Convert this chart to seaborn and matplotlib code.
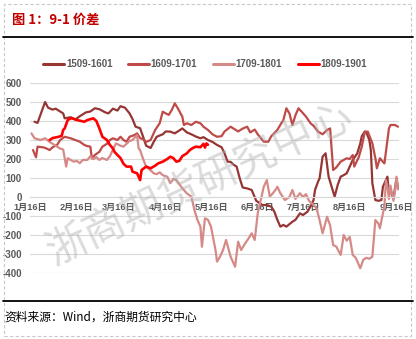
import matplotlib
matplotlib.use("Agg")
import matplotlib.pyplot as plt
import matplotlib.dates as mdates
from matplotlib.patches import Rectangle
from matplotlib.lines import Line2D
import pandas as pd
import seaborn as sns

YEAR = "2015-"

series_names = ["1509-1601", "1609-1701", "1709-1801", "1809-1901"]

dates_1509 = ["01-19","01-21","01-26","01-28","01-31","02-02","02-04","02-07","02-08","02-12","02-15","02-18","02-22","02-25","02-28",
              "03-03","03-07","03-09","03-12","03-15","03-17","03-20","03-23","03-25","03-27","03-30","04-01","04-03","04-06","04-08",
              "04-10","04-14","04-16","04-19","04-22","04-25","04-27","04-30","05-03","05-06","05-09","05-11","05-14","05-17","05-20",
              "05-23","05-25","05-27","05-29","05-31","06-02","06-04","06-06","06-09","06-12","06-15","06-19","06-22","06-25","06-27",
              "06-29","07-01","07-03","07-05","07-09","07-11","07-14","07-16","07-19","07-21","07-23","07-24","07-26","07-27","07-29",
              "07-31","08-02","08-04","08-06","08-08","08-10","08-12","08-14","08-16","08-18","08-21","08-23","08-24","08-26","08-27",
              "08-29","08-30","08-31","09-02","09-04","09-06","09-07","09-10","09-11","09-12","09-14","09-16","09-17"]
vals_1509 = [396,390,500,470,460,465,455,440,414,420,408,425,445,450,467,
             462,445,440,465,455,478,470,440,410,370,362,317,270,258,290,
             317,330,345,344,335,350,361,340,330,318,309,315,300,290,274,
             262,230,186,185,170,160,100,50,45,37,-20,-42,-42,-51,-77,
             -120,-156,-147,-156,-130,-120,-86,-95,-77,-50,-16,37,81,98,212,
             230,107,54,2,63,107,115,125,160,195,230,282,320,344,340,
             300,247,72,-16,-20,-16,54,107,19,30,-7,98,46]

dates_1609 = ["01-18","01-20","01-21","01-25","01-27","01-29","01-31","02-03","02-05","02-08","02-12","02-15","02-18","02-21","02-23",
              "02-25","02-26","02-28","03-03","03-05","03-08","03-10","03-12","03-15","03-17","03-19","03-21","03-23","03-26","03-28",
              "03-30","04-01","04-03","04-06","04-09","04-12","04-14","04-16","04-18","04-20","04-22","04-24","04-27","04-28","04-30",
              "05-03","05-06","05-09","05-11","05-14","05-17","05-20","05-23","05-25","05-29","05-31","06-03","06-06","06-09","06-11",
              "06-14","06-16","06-20","06-23","06-25","06-29","07-01","07-03","07-05","07-07","07-09","07-11","07-13","07-15","07-18",
              "07-21","07-23","07-26","07-29","08-01","08-03","08-05","08-07","08-10","08-12","08-14","08-16","08-18","08-19","08-22",
              "08-24","08-26","08-28","08-31","09-02","09-03","09-05","09-07","09-08","09-11","09-12","09-15","09-17"]
vals_1609 = [247,209,265,261,255,247,262,274,300,317,309,300,291,274,268,
             265,204,221,238,265,280,300,309,300,317,300,291,317,325,335,
             310,304,290,300,353,388,449,440,432,458,493,467,423,379,388,
             379,396,388,370,353,330,317,320,345,370,360,345,360,370,340,
             355,330,291,291,320,353,380,405,467,440,379,430,467,450,423,
             388,375,344,330,353,361,142,155,186,195,204,200,221,160,210,
             265,344,344,282,204,151,204,185,177,361,379,379,370]

dates_1709 = ["01-17","01-19","01-23","01-26","01-29","01-31","02-03","02-05","02-07","02-09","02-10","02-14","02-16","02-18","02-20",
              "02-23","02-25","02-27","03-01","03-03","03-05","03-08","03-10","03-12","03-14","03-17","03-19","03-21","03-23","03-25",
              "03-28","03-29","03-30","04-01","04-03","04-06","04-08","04-10","04-12","04-14","04-17","04-19","04-21","04-23","04-27",
              "04-30","05-03","05-05","05-07","05-09","05-10","05-12","05-14","05-16","05-19","05-20","05-22","05-24","05-26","05-29",
              "06-01","06-03","06-05","06-08","06-10","06-12","06-14","06-16","06-20","06-22","06-24","06-26","06-28","06-29","07-01",
              "07-04","07-07","07-09","07-11","07-14","07-16","07-18","07-20","07-23","07-25","07-27","07-29","08-01","08-03","08-05",
              "08-07","08-10","08-12","08-14","08-16","08-18","08-20","08-23","08-25","08-27","08-29","08-31","09-02","09-04","09-05",
              "09-07","09-08","09-09","09-10","09-11","09-12","09-14","09-15","09-16","09-17"]
vals_1709 = [335,309,300,309,290,280,265,255,250,160,204,186,190,178,195,
             195,215,200,210,195,205,195,215,250,282,270,265,280,295,300,
             326,256,247,200,160,140,125,120,130,115,107,73,95,89,46,
             19,2,-68,-120,-156,-262,-112,-120,-156,-279,-340,-314,-279,-226,-314,
             -367,-235,-279,-240,-217,-191,-226,-86,54,89,2,19,40,54,20,
             -16,0,37,-10,20,0,15,-20,-42,-60,-121,-191,-104,-150,-253,
             -260,-305,-200,-230,-210,-305,-320,-375,-330,-320,-325,-314,-121,-140,-165,
             -86,-51,89,54,-10,60,-20,30,107,40]

dates_1809 = ["01-29","01-31","02-04","02-06","02-07","02-08","02-10","02-12","02-13","02-16","02-19","02-21","02-23","02-27","03-01",
              "03-03","03-05","03-08","03-10","03-12","03-13","03-15","03-17","03-19","03-21","03-24","03-25","03-28","03-30","03-31",
              "04-03","04-06","04-09","04-11","04-14","04-17","04-19","04-21","04-23","04-25","04-27","04-30","05-02","05-04","05-06",
              "05-09","05-11","05-12","05-13","05-14"]
vals_1809 = [300,310,317,322,353,361,405,414,414,405,400,396,405,414,400,
             361,317,300,274,255,238,221,205,175,160,160,133,125,89,142,
             160,151,165,177,186,200,212,205,186,190,215,230,247,258,265,
             262,280,260,282,275]

tick_dates = ["01-16","02-16","03-16","04-16","05-16","06-16","07-16","08-16","09-16"]
tick_labels = ["1月16日","2月16日","3月16日","4月16日","5月16日","6月16日","7月16日","8月16日","9月16日"]
y_ticks = [-400, -300, -200, -100, 0, 100, 200, 300, 400, 500, 600]

colors = {"1509-1601": "#963634", "1609-1701": "#BE4B48", "1709-1801": "#D58A88", "1809-1901": "#FF0000"}
widths = {"1509-1601": 1.6, "1609-1701": 1.6, "1709-1801": 1.6, "1809-1901": 1.9}

frames = []
for name, ds, vs in [("1509-1601", dates_1509, vals_1509), ("1609-1701", dates_1609, vals_1609),
                     ("1709-1801", dates_1709, vals_1709), ("1809-1901", dates_1809, vals_1809)]:
    frames.append(pd.DataFrame({"date": pd.to_datetime([YEAR + d for d in ds]), "value": vs, "series": name}))
df = pd.concat(frames, ignore_index=True)

sns.set_theme(style="white")
plt.rcParams["font.family"] = ["Liberation Sans", "Noto Sans CJK SC", "DejaVu Sans"]

W, H = 416, 339
fig = plt.figure(figsize=(W / 100, H / 100), dpi=100)
ax = fig.add_axes([30 / W, 1 - 273 / H, (399 - 30) / W, (273 - 83) / H])

for name in series_names:
    sub = df[df["series"] == name]
    sns.lineplot(data=sub, x="date", y="value", ax=ax, color=colors[name], lw=widths[name],
                 label=name, sort=False, estimator=None)

ax.set_ylim(-400, 600)
ax.set_xlim(pd.Timestamp("2015-01-16"), pd.Timestamp("2015-09-17 16:00"))
ax.set_yticks(y_ticks)
ax.set_yticklabels([str(v) for v in y_ticks])
ax.set_xticks(pd.to_datetime([YEAR + d for d in tick_dates]))
ax.set_xticklabels(tick_labels)
ax.set_xlabel("")
ax.set_ylabel("")
ax.grid(axis="y", color="#D9D9D9", lw=0.8)
ax.grid(axis="x", visible=False)
for s in ["top", "right", "left"]:
    ax.spines[s].set_visible(False)
ax.spines["bottom"].set_position(("data", 0))
ax.spines["bottom"].set_color("#D9D9D9")
ax.spines["bottom"].set_linewidth(0.8)
ax.tick_params(axis="x", direction="out", length=2.5, width=0.8, color="#BFBFBF", pad=1.5,
               labelsize=6.6, labelcolor="#595959")
ax.tick_params(axis="y", length=0, pad=6, labelsize=7, labelcolor="#595959")
for lab in ax.get_xticklabels() + ax.get_yticklabels():
    lab.set_fontweight("bold")

handles, labels = ax.get_legend_handles_labels()
ax.get_legend().remove()
leg = fig.legend(handles, labels, loc="center", bbox_to_anchor=(205 / W, 1 - 64 / H), ncol=4,
                 frameon=False, fontsize=7, handlelength=2.2, handletextpad=0.15, columnspacing=1.6)
for t in leg.get_texts():
    t.set_color("#595959")
    t.set_fontweight("bold")
for l in leg.get_lines():
    l.set_linewidth(2.2)

# watermark
fig.text(200 / W, 1 - 185 / H, "浙商期货研究中心", fontsize=30, rotation=25, color="#B0B0B0", alpha=0.45,
         ha="center", va="center", family=["Noto Sans CJK SC"], fontweight="light")

# title and decorations
fig.text(12 / W, 1 - 20 / H, "图 1：9-1 价差", fontsize=9.5, fontweight="bold", color="#C00000",
         ha="left", va="center", family=["Noto Sans CJK SC", "DejaVu Sans"])
fig.add_artist(Line2D([3 / W, 413 / W], [1 - 37 / H] * 2, color="black", lw=1.3))
fig.add_artist(Line2D([3 / W, 413 / W], [1 - 300.5 / H] * 2, color="black", lw=1.3))
fig.text(4 / W, 1 - 317 / H, "资料来源：Wind，浙商期货研究中心", fontsize=8.5, color="black",
         ha="left", va="center", family=["Noto Sans CJK SC", "DejaVu Sans"])
fig.add_artist(Rectangle((3.5 / W, 3.5 / H), (410.5 - 3.5) / W, (335.5 - 3.5) / H, fill=False,
                         edgecolor="#C8C8C8", lw=0.8, linestyle=(0, (3, 2)), transform=fig.transFigure))

fig.savefig("out.png", dpi=100)
